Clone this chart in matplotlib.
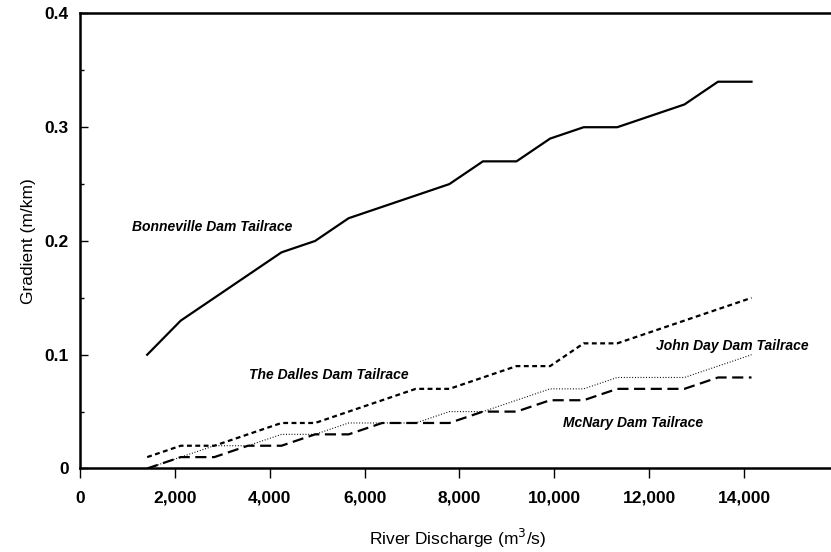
import numpy as np
import matplotlib
matplotlib.use("Agg")
import matplotlib.pyplot as plt
from matplotlib.ticker import FuncFormatter, MultipleLocator

plt.rcParams['font.family'] = ['Liberation Sans', 'DejaVu Sans']
plt.rcParams['lines.scale_dashes'] = False

# discharge in m3/s (50,000 to 500,000 cfs in 25,000 cfs steps)
discharge = [1416, 2124, 2832, 3540, 4248, 4956, 5663, 6371, 7079, 7787,
             8495, 9203, 9911, 10619, 11327, 12035, 12743, 13451, 14158]

bonneville = [0.10, 0.13, 0.15, 0.17, 0.19, 0.20, 0.22, 0.23, 0.24, 0.25,
              0.27, 0.27, 0.29, 0.30, 0.30, 0.31, 0.32, 0.34, 0.34]
the_dalles = [0.01, 0.02, 0.02, 0.03, 0.04, 0.04, 0.05, 0.06, 0.07, 0.07,
              0.08, 0.09, 0.09, 0.11, 0.11, 0.12, 0.13, 0.14, 0.15]
john_day = [0.00, 0.01, 0.02, 0.02, 0.03, 0.03, 0.04, 0.04, 0.04, 0.05,
            0.05, 0.06, 0.07, 0.07, 0.08, 0.08, 0.08, 0.09, 0.10]
mcnary = [0.00, 0.01, 0.01, 0.02, 0.02, 0.03, 0.03, 0.04, 0.04, 0.04,
          0.05, 0.05, 0.06, 0.06, 0.07, 0.07, 0.07, 0.08, 0.08]

labels = ["Bonneville Dam Tailrace", "The Dalles Dam Tailrace",
          "John Day Dam Tailrace", "McNary Dam Tailrace"]
label_xy = [(2783, 0.212), (5250, 0.082), (13746, 0.108), (11670, 0.040)]

fig = plt.figure(figsize=(8.31, 5.52), dpi=100)
ax = fig.add_axes([0.0963, 0.1513, 0.9037, 0.8243])

ax.plot(discharge, bonneville, color='black', lw=1.6, ls='-')
ax.plot(discharge, the_dalles, color='black', lw=1.6, ls=(0, (3.5, 2.5)))
ax.plot(discharge, john_day, color='black', lw=0.8, ls=(0, (0.7, 1.3)))
ax.plot(discharge, mcnary, color='black', lw=1.6, ls=(0, (8, 4)))

for txt, (x, y) in zip(labels, label_xy):
    ax.text(x, y, txt, ha='center', va='center', fontsize=10,
            fontweight='bold', fontstyle='italic')

ax.set_xlim(0, 15834)
ax.set_ylim(0, 0.4)

ax.xaxis.set_major_locator(MultipleLocator(2000))
ax.xaxis.set_major_formatter(FuncFormatter(lambda v, p: f"{int(v):,}"))
ax.yaxis.set_major_locator(MultipleLocator(0.1))
ax.yaxis.set_minor_locator(MultipleLocator(0.05))
ax.yaxis.set_major_formatter(FuncFormatter(lambda v, p: "0" if v == 0 else f"{v:.1f}"))

ax.tick_params(axis='x', direction='out', length=7, width=1, pad=9,
               labelsize=12.5)
ax.tick_params(axis='y', which='major', direction='in', length=6, width=1,
               pad=8, labelsize=12.5)
ax.tick_params(axis='y', which='minor', direction='in', length=3, width=1)
for lab in ax.get_xticklabels() + ax.get_yticklabels():
    lab.set_fontweight('bold')

for side in ['left', 'bottom', 'top']:
    ax.spines[side].set_linewidth(1.8)
ax.spines['right'].set_visible(False)

ax.set_xlabel("River Discharge (m$^3$/s)", fontsize=12.5)
ax.set_ylabel("Gradient (m/km)", fontsize=12.5)
ax.xaxis.set_label_coords(0.503, -0.128)
ax.yaxis.set_label_coords(-0.059, 0.5)

fig.savefig("out.png", dpi=100)
